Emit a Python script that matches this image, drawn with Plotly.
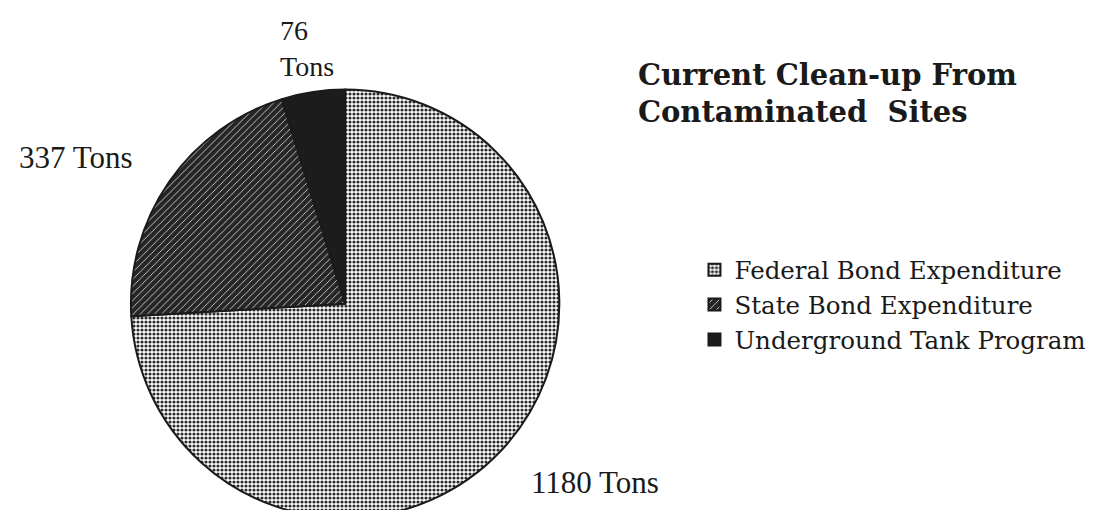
import plotly.graph_objects as go

# Data
categories = ["Federal Bond Expenditure", "State Bond Expenditure", "Underground Tank Program"]
tons = [1180, 337, 76]
unit = "Tons"
title_lines = ["Current Clean-up From", "Contaminated  Sites"]

fig = go.Figure()
fig.add_trace(go.Pie(
    labels=categories,
    values=tons,
    sort=False,
    direction="clockwise",
    rotation=0,
    textinfo="none",
    hoverinfo="label+value",
    marker=dict(
        colors=["#ffffff", "#262626", "#1c1c1c"],
        line=dict(color="#1a1a1a", width=2),
        pattern=dict(
            shape=[".", "/", ""],
            fgcolor=["#2a2a2a", "#eeeeee", "#1c1c1c"],
            bgcolor=["#ffffff", "#262626", "#1c1c1c"],
            size=[4, 5, 8],
            solidity=[0.5, 0.15, 0.3],
            fillmode="replace",
        ),
    ),
    domain=dict(x=[0.110, 0.498], y=[0.0, 0.84]),
    showlegend=True,
))

# Value labels placed outside the slices
label_font = dict(family="Liberation Serif", size=31, color="#1a1a1a")
fig.add_annotation(text=f"{tons[0]} {unit}", x=0.470, y=0.069, xref="paper", yref="paper",
                   xanchor="left", yanchor="middle", showarrow=False, font=label_font)
fig.add_annotation(text=f"{tons[1]} {unit}", x=0.008, y=0.706, xref="paper", yref="paper",
                   xanchor="left", yanchor="middle", showarrow=False, font=label_font)
fig.add_annotation(text=f"{tons[2]}<br>{unit}", x=0.2435, y=0.99, xref="paper", yref="paper",
                   xanchor="left", yanchor="top", align="left", showarrow=False,
                   font=dict(family="Liberation Serif", size=28, color="#1a1a1a"))

fig.update_layout(
    width=1109,
    height=510,
    margin=dict(l=0, r=0, t=0, b=0),
    paper_bgcolor="white",
    plot_bgcolor="white",
    title=dict(
        text="<b>" + "<br>".join(title_lines) + "</b>",
        x=0.568, xanchor="left", xref="paper",
        y=0.85, yanchor="top", yref="paper",
        font=dict(family="DejaVu Serif", size=29, color="#1a1a1a"),
    ),
    legend=dict(
        x=0.619, xanchor="left",
        y=0.418, yanchor="middle",
        font=dict(family="DejaVu Serif", size=24.5, color="#1a1a1a"),
        bgcolor="rgba(0,0,0,0)",
        traceorder="normal",
    ),
)

fig.write_html("out.html")
